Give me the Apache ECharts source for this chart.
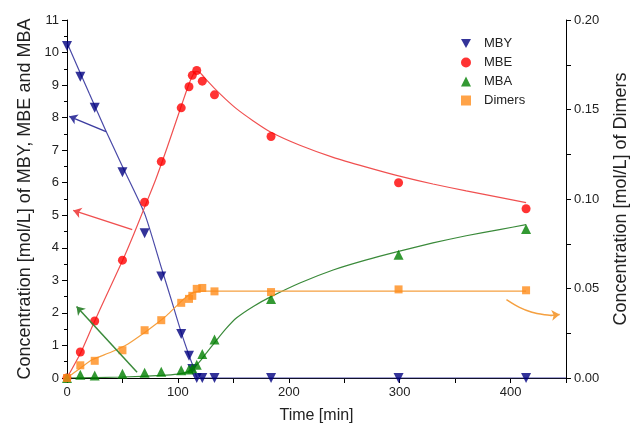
<!DOCTYPE html>
<html>
<head>
<meta charset="utf-8">
<script src="https://cdn.jsdelivr.net/npm/echarts@6/dist/echarts.min.js"></script>
<style>
  html, body { margin: 0; padding: 0; background: #fff; }
  #chart { width: 638px; height: 433px; }
</style>
</head>
<body>
<div id="chart"></div>
<script>
// sampling times [min]
const times = [0, 12, 25, 50, 70, 85, 103, 110, 113, 117, 122, 133, 184, 299, 414];
// measured concentrations
const mby = [10.2, 9.26, 8.3, 6.32, 4.45, 3.12, 1.35, 0.68, 0.28, 0, 0, 0, 0, 0, 0];
const mbe = [0, 0.8, 1.75, 3.62, 5.4, 6.65, 8.3, 8.95, 9.3, 9.45, 9.12, 8.7, 7.42, 6.0, 5.2];
const mba = [0, 0.1, 0.08, 0.13, 0.16, 0.19, 0.24, 0.26, 0.3, 0.41, 0.74, 1.18, 2.43, 3.79, 4.58];
const dimers = [0, 0.0071, 0.0096, 0.0155, 0.0267, 0.0323, 0.042, 0.0442, 0.0459, 0.0498, 0.0503, 0.0484, 0.048, 0.0495, 0.049];

// model curves
const mbyFit = [[0,10.3],[20,8.75],[35,7.6],[50,6.5],[70,5.05],[85,3.4],[95,2.3],[103,1.4],[110,0.7],[115,0.25],[118,0],[450,0]];
const mbeFit = [[0,0],[12,0.75],[23,1.6],[35,2.5],[50,3.6],[60,4.4],[70,5.25],[80,6.1],[90,7.05],[100,8.05],[107,8.75],[112,9.2],[116,9.42],[120,9.38],[126,9.15],[133,8.9],[143,8.57],[153,8.27],[168,7.9],[184,7.55],[210,7.15],[240,6.78],[270,6.48],[299,6.21],[330,5.96],[360,5.75],[390,5.55],[414,5.39]];
const mbaFit = [[0,0],[50,0.03],[85,0.08],[100,0.12],[108,0.18],[114,0.3],[120,0.52],[126,0.78],[133,1.08],[143,1.5],[153,1.85],[168,2.2],[184,2.5],[210,2.92],[240,3.32],[270,3.63],[299,3.89],[330,4.15],[360,4.37],[390,4.56],[414,4.71]];
const dimerFit = [[0,0],[12,0.0055],[23,0.0103],[40,0.0145],[55,0.019],[68,0.0245],[80,0.03],[90,0.035],[100,0.041],[108,0.0455],[115,0.048],[122,0.0485],[414,0.0485]];

// annotation arrows (left axis units)
const arrowMBY = [[35.2, 7.57], [2, 8.04]];
const arrowMBE = [[58.8, 4.56], [5.6, 5.15]];
const arrowMBA = [[63.2, 0.18], [8.6, 2.2]];
const arrowDimPath = [[396.3, 2.41], [408, 2.17], [419.3, 2.02], [430.9, 1.94], [437, 1.92]];
const arrowDimHead = [[436, 1.92], [444.3, 1.95]];

const pairs = (vals) => times.map((t, i) => [t, vals[i]]);

const chart = echarts.init(document.getElementById('chart'));

const font = 'Liberation Sans, Arial, sans-serif';
const axisLine = { show: true, lineStyle: { color: '#000', width: 1 } };

function fitLine(data, color, yIdx) {
  return {
    type: 'line', data: data, yAxisIndex: yIdx || 0,
    smooth: 0.2, showSymbol: false, silent: true,
    lineStyle: { color: color, width: 1.2 }, z: 2
  };
}

function arrow(pts, color) {
  return {
    silent: true, symbol: ['none', 'arrow'], symbolSize: 8,
    label: { show: false },
    lineStyle: { color: color, width: 1.5, type: 'solid' },
    data: [[{ coord: pts[0] }, { coord: pts[1] }]]
  };
}

chart.setOption({
  animation: false,
  textStyle: { fontFamily: font },
  grid: { left: 67, right: 63, top: 20, bottom: 55 },
  legend: {
    orient: 'vertical', left: 456, top: 32,
    itemGap: 6, itemWidth: 10, itemHeight: 10,
    textStyle: { fontSize: 13, color: '#222', fontFamily: font, padding: [0, 0, 0, 8] },
    data: [
      { name: 'MBY', icon: 'path://M0,0L10,0L5,9Z' },
      { name: 'MBE' }, { name: 'MBA' }, { name: 'Dimers' }
    ]
  },
  xAxis: {
    type: 'value', min: 0, max: 450, interval: 100,
    name: 'Time [min]', nameLocation: 'middle', nameGap: 30,
    nameTextStyle: { fontSize: 16, color: '#222' },
    axisLine: axisLine,
    axisTick: { show: true, length: 5, lineStyle: { color: '#000' } },
    minorTick: { show: true, splitNumber: 2, length: 5, lineStyle: { color: '#000' } },
    axisLabel: { fontSize: 13, color: '#222',
      formatter: (v) => (v % 100 === 0 && v <= 400) ? v : '' },
    splitLine: { show: false }
  },
  yAxis: [{
    type: 'value', min: 0, max: 11, interval: 1,
    name: 'Concentration [mol/L] of MBY, MBE and MBA', nameLocation: 'middle', nameGap: 32,
    nameTextStyle: { fontSize: 18, color: '#222' },
    axisLine: axisLine,
    axisTick: { show: true, length: 5, lineStyle: { color: '#000' } },
    minorTick: { show: true, splitNumber: 2, length: 3, lineStyle: { color: '#000' } },
    axisLabel: { fontSize: 13, color: '#222' },
    splitLine: { show: false }
  }, {
    type: 'value', min: 0, max: 0.2, interval: 0.05, position: 'right',
    name: 'Concentration [mol/L] of Dimers', nameLocation: 'middle', nameGap: 46, nameRotate: 90,
    nameTextStyle: { fontSize: 18, color: '#222' },
    axisLine: axisLine,
    axisTick: { show: true, length: 5, lineStyle: { color: '#000' } },
    minorTick: { show: true, splitNumber: 2, length: 5, lineStyle: { color: '#000' } },
    axisLabel: { fontSize: 13, color: '#222', formatter: (v) => v.toFixed(2) },
    splitLine: { show: false }
  }],
  series: [
    fitLine(mbyFit, '#4a4aa8'),
    fitLine(mbeFit, '#f05050'),
    fitLine(mbaFit, '#3a8a3a'),
    fitLine(dimerFit, '#f5a040', 1),
    {
      name: 'MBY', type: 'scatter', data: pairs(mby),
      symbol: 'triangle', symbolRotate: 180, symbolSize: 10,
      itemStyle: { color: '#000080' }, z: 4,
      markLine: arrow(arrowMBY, '#3c3ca0')
    },
    {
      name: 'MBE', type: 'scatter', data: pairs(mbe),
      symbol: 'circle', symbolSize: 9,
      itemStyle: { color: '#ff0000' }, z: 4,
      markLine: arrow(arrowMBE, '#f05050')
    },
    {
      name: 'MBA', type: 'scatter', data: pairs(mba),
      symbol: 'triangle', symbolSize: 10,
      itemStyle: { color: '#008000' }, z: 4,
      markLine: arrow(arrowMBA, '#3a8a3a')
    },
    {
      name: 'Dimers', type: 'scatter', data: pairs(dimers), yAxisIndex: 1,
      symbol: 'rect', symbolSize: 8,
      itemStyle: { color: '#ff8c1a' }, z: 4
    },
    {
      type: 'line', data: arrowDimPath, smooth: 0.3, showSymbol: false, silent: true,
      lineStyle: { color: '#f5a040', width: 1.5 },
      markLine: arrow(arrowDimHead, '#f5a040')
    }
  ]
});
</script>
</body>
</html>
